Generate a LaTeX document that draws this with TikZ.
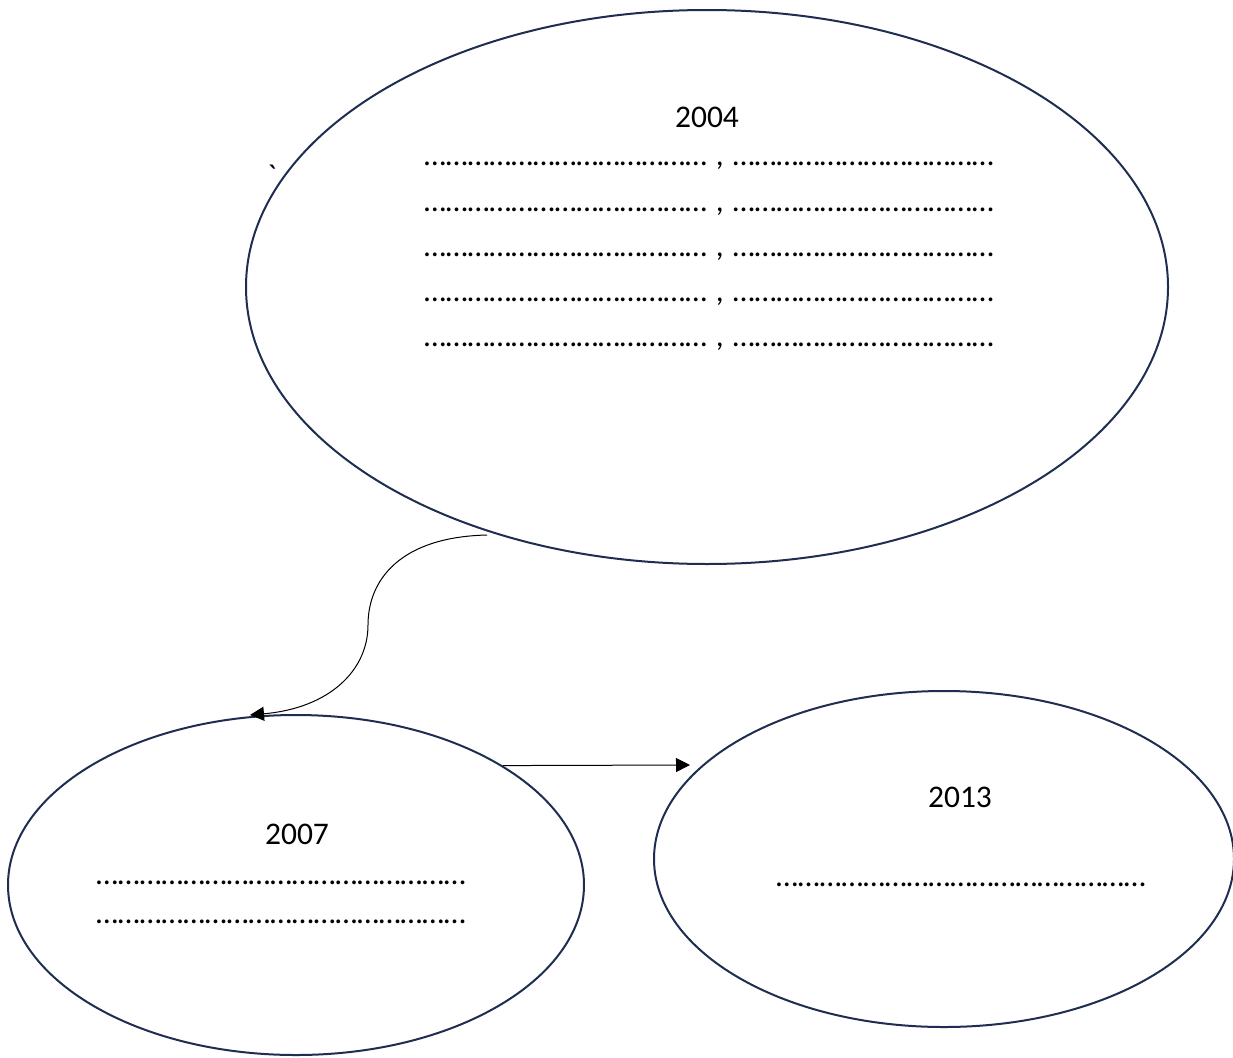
\documentclass[tikz,border=0pt]{standalone}
\usepackage{fontspec}
\setmainfont{Carlito}
\newfontfamily\gravefont[Ligatures=ResetAll]{Carlito}
\usetikzlibrary{shapes.geometric,arrows.meta}
\definecolor{navy}{RGB}{31,45,80}
\newcommand\ee{…}
\newcommand\eefour{\ee\ee\ee\ee}
\newcommand\leftdots{\eefour\eefour\eefour\ee}
\newcommand\rightdots{\eefour\eefour\eefour}
\newcommand\longdots{\eefour\eefour\eefour\eefour\ee}
\tikzset{
  bubble/.style={ellipse, draw=navy, line width=2pt, inner sep=0pt},
  lbl/.style={font=\fontsize{31.5}{38}\selectfont, inner sep=0pt, anchor=base},
  dotrow/.style={font=\fontsize{31.5}{38}\selectfont, inner sep=0pt, anchor=base west},
  arr/.style={draw=black, line width=1pt, -{Triangle[length=14pt,width=14pt]}}
}
\begin{document}
\begin{tikzpicture}[x=1pt,y=-1pt]
\useasboundingbox (0,0) rectangle (1233,1057);
\node[bubble, minimum width=922pt, minimum height=554pt] (e2004) at (707,287) {};
\node[bubble, minimum width=576pt, minimum height=340pt] (e2007) at (296,885) {};
\node[bubble, minimum width=580pt, minimum height=336pt] (e2013) at (944,859) {};
\node[lbl] (t2004) at (707,127) {2004};
\node[lbl] (tick) at (272,186) {\gravefont\symbol{"60}};
\node[dotrow] (r1) at (424,165) {\leftdots{}\hspace{2pt} , \hspace{2pt}\rightdots};
\node[dotrow] (r2) at (424,211) {\leftdots{}\hspace{2pt} , \hspace{2pt}\rightdots};
\node[dotrow] (r3) at (424,256) {\leftdots{}\hspace{2pt} , \hspace{2pt}\rightdots};
\node[dotrow] (r4) at (424,301) {\leftdots{}\hspace{2pt} , \hspace{2pt}\rightdots};
\node[dotrow] (r5) at (424,346) {\leftdots{}\hspace{2pt} , \hspace{2pt}\rightdots};
\node[lbl] (t2007) at (297,844) {2007};
\node[dotrow] (s1) at (96,884) {\longdots};
\node[dotrow] (s2) at (96,923) {\longdots};
\node[lbl] (t2013) at (960,807) {2013};
\node[dotrow] (u1) at (776,886) {\longdots};
\coordinate (c1start) at (487,535);
\coordinate (c1end) at (250,715);
\coordinate (c2end) at (690,765);
\draw[arr] (c1start) .. controls (400,537) and (368,580) .. (368,625)
  .. controls (368,670) and (330,708) .. (c1end);
\draw[arr] (e2007.30.7) -- (c2end);
\end{tikzpicture}
\end{document}
